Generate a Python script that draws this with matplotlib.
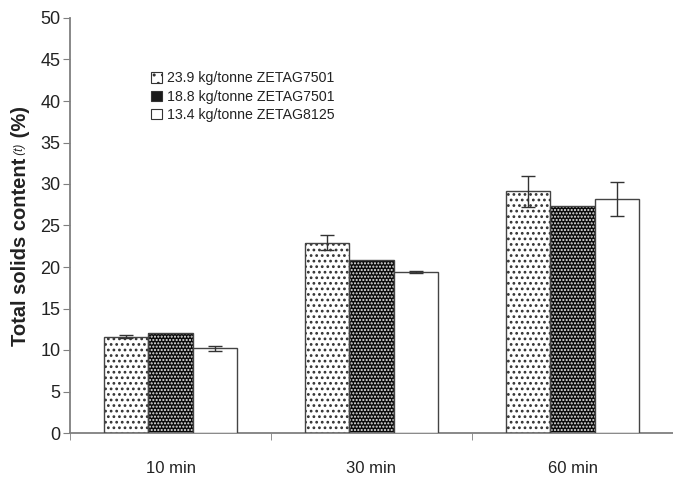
import matplotlib
matplotlib.use("Agg")
import matplotlib.pyplot as plt
import numpy as np
from matplotlib.patches import Patch

plt.rcParams['font.family'] = ['Liberation Sans', 'DejaVu Sans']

categories = ["10 min", "30 min", "60 min"]
series = ["23.9 kg/tonne ZETAG7501", "18.8 kg/tonne ZETAG7501", "13.4 kg/tonne ZETAG8125"]
values_a = [11.6, 22.9, 29.1]
errors_a = [0.2, 0.9, 1.9]
values_b = [12.1, 20.9, 27.3]
values_c = [10.2, 19.4, 28.2]
errors_c = [0.3, 0.15, 2.1]
yticks = [0, 5, 10, 15, 20, 25, 30, 35, 40, 45, 50]

fig = plt.figure(figsize=(6.73, 4.92), dpi=100)
ax = fig.add_axes([70/673, 59/492, 1 - 70/673, (433-18)/492])

x = np.arange(len(categories))
w = 0.222
axis_col = '#7f7f7f'

# series A: white with sparse black dots
with plt.rc_context({'hatch.linewidth': 1.2}):
    ax.bar(x - w, values_a, w, color='white', edgecolor='#333333', hatch='...', linewidth=0, zorder=2)
ax.bar(x - w, values_a, w, color='none', edgecolor='#444444', linewidth=1.0, zorder=3)
ax.errorbar(x - w, values_a, yerr=errors_a, fmt='none', ecolor='#333333', capsize=5, elinewidth=1, capthick=1, zorder=4)

# series B: dark with light dots
with plt.rc_context({'hatch.linewidth': 1.0}):
    ax.bar(x, values_b, w, color='#0a0a0a', edgecolor='#e8e8e8', hatch='.....', linewidth=0, zorder=2)
ax.bar(x, values_b, w, color='none', edgecolor='#444444', linewidth=1.0, zorder=3)

# series C: plain white
ax.bar(x + w, values_c, w, color='white', edgecolor='#444444', linewidth=1.0, zorder=3)
ax.errorbar(x + w, values_c, yerr=errors_c, fmt='none', ecolor='#333333', capsize=5, elinewidth=1, capthick=1, zorder=4)

ax.set_xlim(-0.5, 2.5)
ax.set_ylim(0, 50)
ax.set_yticks(yticks)
ax.set_xticks(x)
ax.set_xticklabels(categories, fontsize=12, color='#222222')
ax.set_xticks([-0.5, 0.5, 1.5, 2.5], minor=True)
ax.tick_params(axis='x', which='major', length=0, pad=20)
ax.tick_params(axis='x', which='minor', length=5, direction='out', color=axis_col)
ax.tick_params(axis='y', length=5, direction='out', color=axis_col, labelsize=13, pad=2, labelcolor='#222222')
for s in ['top', 'right']:
    ax.spines[s].set_visible(False)
for s in ['left', 'bottom']:
    ax.spines[s].set_color(axis_col)
    ax.spines[s].set_linewidth(1.3)

with plt.rc_context({'hatch.linewidth': 1.2}):
    handles = [
        Patch(facecolor='white', edgecolor='#333333', hatch='..', linewidth=0.8),
        Patch(facecolor='#1a1a1a', edgecolor='#333333', linewidth=0.8),
        Patch(facecolor='white', edgecolor='#333333', linewidth=0.8),
    ]
leg = ax.legend(handles, series, loc='upper left', bbox_to_anchor=(0.125, 0.885), frameon=False,
                fontsize=10.2, handlelength=0.75, handleheight=0.75, handletextpad=0.35, labelspacing=0.3,
                borderaxespad=0)
for t in leg.get_texts():
    t.set_color('#222222')

# y label composed of pieces
fig.canvas.draw()
r = fig.canvas.get_renderer()
xpos = 20 / 673
pieces = [("Total solids content", dict(fontweight='bold', fontsize=14.5)),
          (" (t)", dict(fontstyle='italic', fontsize=8.5)),
          (" (%)", dict(fontweight='bold', fontsize=14.5))]
texts = []
ypos = 0.5
for txt, kw in pieces:
    t = fig.text(xpos, ypos, txt, rotation=90, ha='left', va='center', rotation_mode='anchor', color='#222222', **kw)
    bb = t.get_window_extent(r)
    texts.append(t)
    ypos = bb.y1 / fig.bbox.height
total = ypos - 0.5
center_target = (492 - 226) / 492
shift = center_target - (0.5 + total / 2)
for t in texts:
    px, py = t.get_position()
    t.set_position((px, py + shift))

fig.savefig("out.png", dpi=100)
